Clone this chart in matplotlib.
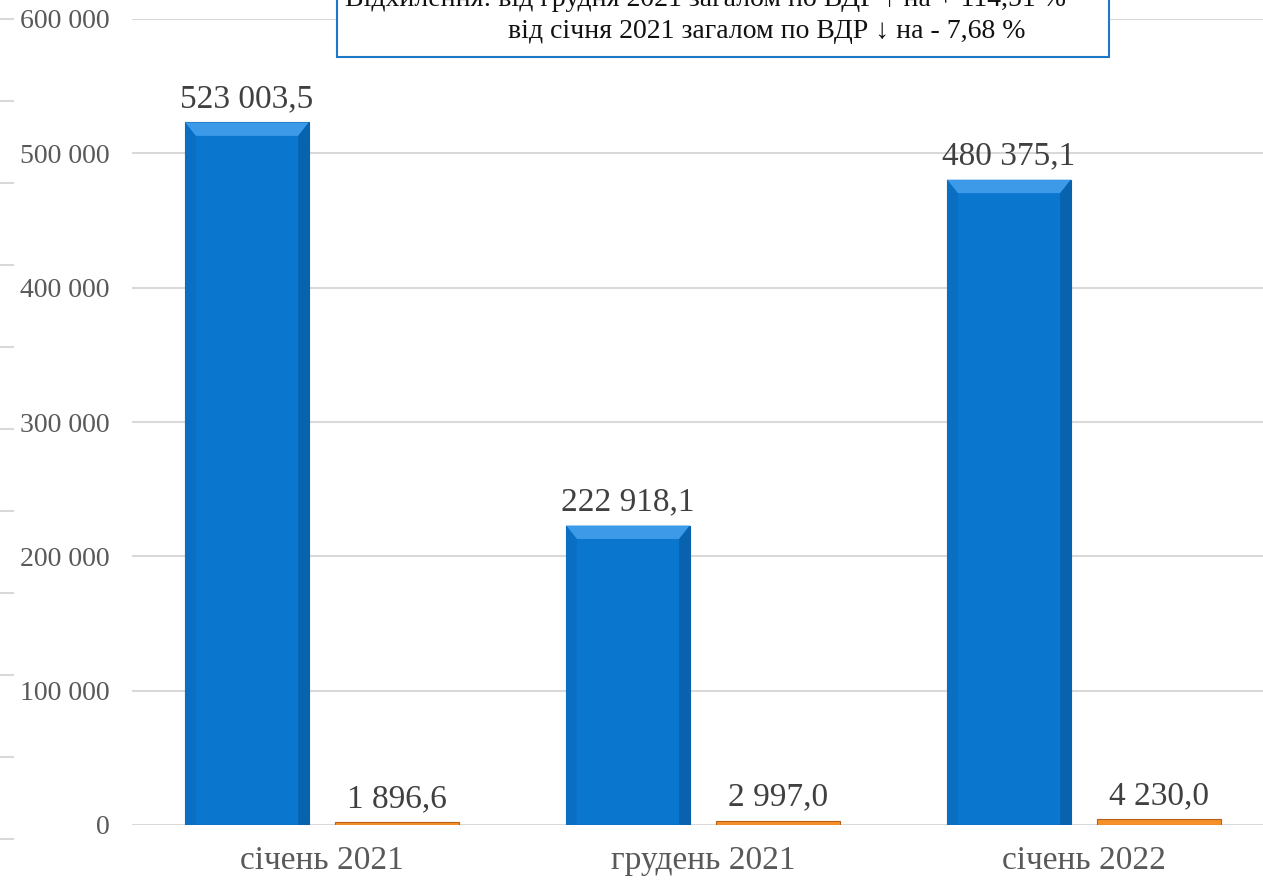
import matplotlib
matplotlib.use("Agg")
import matplotlib.pyplot as plt
from matplotlib.patches import Rectangle
from matplotlib.lines import Line2D
import numpy as np

categories = ["січень 2021", "грудень 2021", "січень 2022"]
series_main = [523003.5, 222918.1, 480375.1]
series_small = [1896.6, 2997.0, 4230.0]
main_labels = ["523 003,5", "222 918,1", "480 375,1"]
small_labels = ["1 896,6", "2 997,0", "4 230,0"]
yticks = [0, 100000, 200000, 300000, 400000, 500000, 600000]
ytick_labels = ["0", "100 000", "200 000", "300 000", "400 000", "500 000", "600 000"]
note_line1 = "Відхилення: від грудня 2021 загалом по ВДР ↑ на + 114,51 %"
note_line2 = "від січня 2021 загалом по ВДР ↓ на - 7,68 %"

FONT = ["Liberation Serif", "DejaVu Serif"]
plt.rcParams["font.family"] = FONT

W, H = 1263, 881
fig = plt.figure(figsize=(W / 100, H / 100), dpi=100)

left_px, right_px, top_px, bottom_px = 131.5, 1274.5, 19, 825
ax = fig.add_axes([left_px / W, 1 - bottom_px / H, (right_px - left_px) / W, (bottom_px - top_px) / H])
ax.set_xlim(-0.5, 2.5)
ax.set_ylim(0, 600000)

x = np.arange(len(categories))
off = 0.197
bw = 0.325
blue = "#0B76CD"
orange = "#F5902A"

ax.set_axisbelow(True)
ax.yaxis.grid(True, color="#D9D9D9", linewidth=1.5)
for s in ax.spines.values():
    s.set_visible(False)

b1 = ax.bar(x - off, series_main, width=bw, color=blue, edgecolor="#0A5FA8", linewidth=0.8, zorder=3)
b2 = ax.bar(x + off, series_small, width=bw, color=orange, edgecolor="#B85F12", linewidth=0.8, zorder=3)

# bevel highlight on top of blue bars
for rect in b1:
    xl = rect.get_x()
    w = rect.get_width()
    h = rect.get_height()
    bev = 10000
    ax.fill([xl, xl + w, xl + w - 0.028, xl + 0.028], [h, h, h - bev, h - bev],
            color="#3C9AE8", zorder=4, linewidth=0)
    ax.fill([xl, xl + 0.028, xl + 0.028, xl], [h, h - bev, 0, 0], color="#0A6EC2", zorder=4, linewidth=0)
    ax.fill([xl + w, xl + w - 0.028, xl + w - 0.028, xl + w], [h, h - bev, 0, 0], color="#0862AD", zorder=4, linewidth=0)

for xi, v, lab in zip(x - off, series_main, main_labels):
    ax.annotate(lab, (xi, v), xytext=(0, 6), textcoords="offset points",
                ha="center", va="bottom", fontsize=24, color="#404040", family=FONT)
for xi, v, lab in zip(x + off, series_small, small_labels):
    ax.annotate(lab, (xi, v), xytext=(0, 6), textcoords="offset points",
                ha="center", va="bottom", fontsize=24, color="#404040", family=FONT)

ax.set_yticks(yticks)
ax.set_yticklabels(ytick_labels, fontsize=20, color="#595959")
ax.set_xticks(x)
ax.set_xticklabels(categories, fontsize=24, color="#595959")
ax.tick_params(axis="y", length=0, pad=16)
ax.tick_params(axis="x", length=0, pad=15)

# decorative short marks on the left edge
for k in range(11):
    yp = 19 + 82 * k
    fig.add_artist(Line2D([0, 13 / W], [1 - yp / H, 1 - yp / H], color="#D9D9D9", linewidth=1.5,
                          transform=fig.transFigure))

# note box
bx0, bx1, by1 = 337, 1109, 57
fig.add_artist(Rectangle((bx0 / W, 1 - by1 / H), (bx1 - bx0) / W, (by1 + 20) / H,
                         transform=fig.transFigure, facecolor="white", edgecolor="#1E78C8",
                         linewidth=1.5, zorder=10))
fig.text(345 / W, 1 - 6 / H, note_line1, ha="left", va="baseline", fontsize=20,
         color="#111111", family=FONT, zorder=11)
fig.text(1026 / W, 1 - 38 / H, note_line2, ha="right", va="baseline", fontsize=20,
         color="#111111", family=FONT, zorder=11)

fig.savefig("out.png", dpi=100)
